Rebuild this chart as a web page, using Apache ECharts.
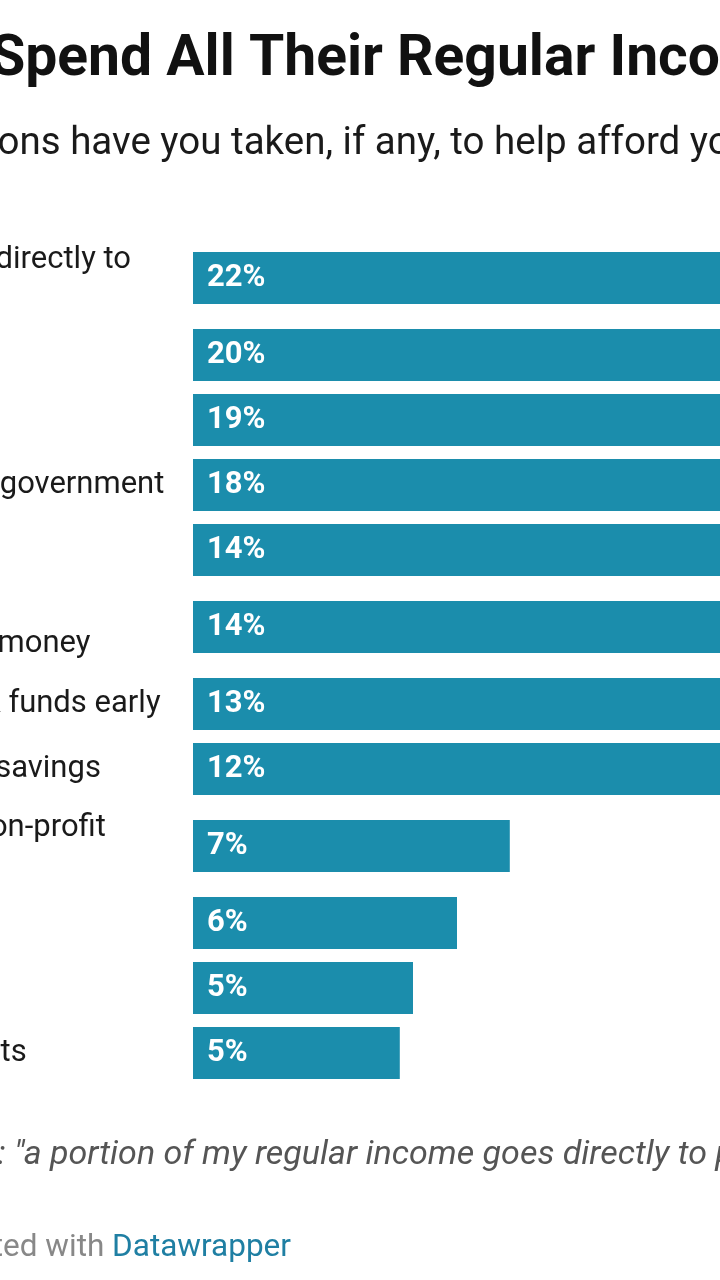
<!DOCTYPE html>
<html><head><meta charset="utf-8">
<script src="https://cdn.jsdelivr.net/npm/echarts@6/dist/echarts.min.js"></script>
<style>
html,body{margin:0;padding:0;width:720px;height:1280px;overflow:hidden;background:#fff;}
#chart{position:absolute;left:-160px;top:0;width:1480px;height:1280px;}
</style></head><body><div id="chart"></div>
<script>
// ---- data ----
const categories = [
  "Part goes directly to\nbills*",
  "Cut back",
  "Overtime",
  "Help from government",
  "Side gig",
  "Borrowed\na cousin's money",
  "Used 401k funds early",
  "Spent our savings",
  "Asked a non-profit\nfor help",
  "Loans",
  "Moved",
  "Used credits"
];
const values = [22, 20, 19, 18, 14, 14, 13, 12, 7.2, 6.0, 5.0, 4.7];
const titleText = "Who Spend All Their Regular Income, and How They Get By";
const subtitleText = "What actions have you taken, if any, to help afford your bills?";
const noteText = '* Full text: "a portion of my regular income goes directly to paying bills"';
const creditPrefix = "Created with ";
const creditLink = "Datawrapper";

// ---- layout ----
const ROW = 65, EXTRA = 24, BAR_H = 52;
const rowUnits = categories.map(c => 1 + (c.split("\n").length - 1) * EXTRA / ROW);
const centers = [];
let acc = 0;
rowUnits.forEach(u => { centers.push(acc + u / 2); acc += u; });
const U = acc;
const GRID_LEFT = 353, GRID_TOP = 233.5, X_MAX = 25, PX_PER = 44;
const LABEL_X = 15;
const BAR_COLOR = '#1b8dac';
const FONT = 'Roboto';

const chart = echarts.init(document.getElementById('chart'), null, {renderer: 'canvas'});
chart.setOption({
  animation: false,
  grid: {left: GRID_LEFT, top: GRID_TOP, width: X_MAX * PX_PER, height: U * ROW},
  xAxis: {type: 'value', min: 0, max: X_MAX, show: false},
  yAxis: {type: 'value', min: 0, max: U, inverse: true, show: false},
  graphic: [
    {type: 'text', x: 22, y: 61, style: {text: titleText, fontSize: 57, fontWeight: 'bold', fontFamily: FONT, fill: '#111', verticalAlign: 'middle'}},
    {type: 'text', x: -4, y: 144, style: {text: subtitleText, fontSize: 38.5, fontFamily: FONT, fill: '#1a1a1a', verticalAlign: 'middle'}},
    {type: 'text', x: 19, y: 1155, style: {text: noteText, fontSize: 34, fontStyle: 'italic', fontFamily: FONT, fill: '#555', verticalAlign: 'middle'}},
    {type: 'text', x: 88, y: 1248, style: {
      text: '{g|' + creditPrefix + '}{d|' + creditLink + '}', verticalAlign: 'middle',
      rich: {g: {fontSize: 31.5, fontFamily: FONT, fill: '#888'}, d: {fontSize: 31.5, fontFamily: FONT, fill: '#1f7fa3'}}
    }}
  ],
  series: [{
    type: 'custom',
    clip: false,
    encode: {x: 0, y: 1},
    data: values.map((v, i) => [v, centers[i], i]),
    renderItem: function (params, api) {
      const i = api.value(2);
      const v = api.value(0);
      const c = api.value(1);
      const p0 = api.coord([0, c]);
      const p1 = api.coord([v, c]);
      const h = api.size([0, BAR_H / ROW])[1];
      return {
        type: 'group',
        children: [
          {type: 'rect', shape: {x: p0[0], y: p0[1] - h / 2, width: p1[0] - p0[0], height: h}, style: {fill: BAR_COLOR}},
          {type: 'text', x: p0[0] + 14, y: p0[1], style: {text: Math.round(v) + '%', fill: '#fff', fontSize: 31, fontWeight: 'bold', fontFamily: FONT, align: 'left', verticalAlign: 'middle'}},
          {type: 'text', x: LABEL_X, y: p0[1], style: {text: categories[i], fill: '#1a1a1a', fontSize: 31, fontFamily: FONT, lineHeight: 35, align: 'left', verticalAlign: 'middle'}}
        ]
      };
    }
  }]
});
</script>
</body></html>
